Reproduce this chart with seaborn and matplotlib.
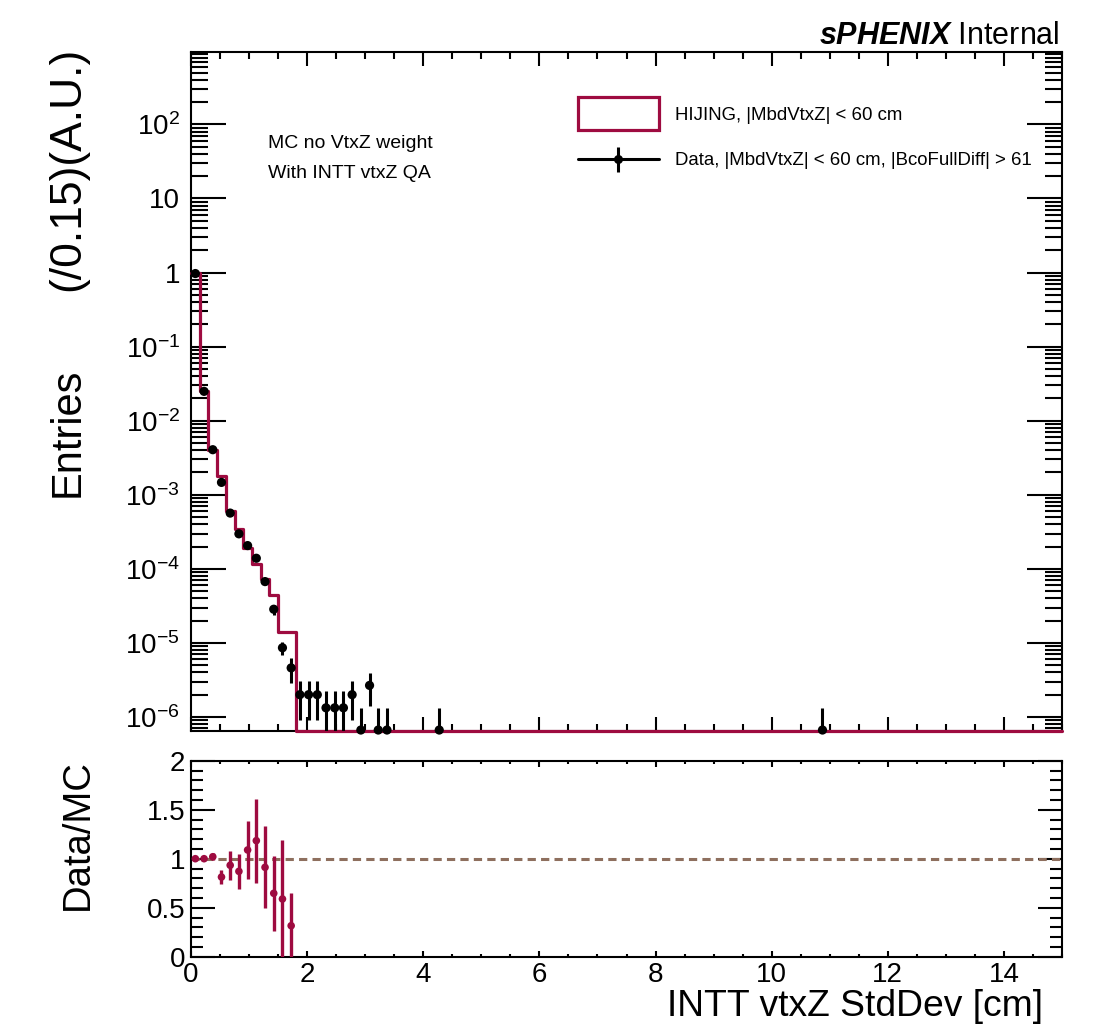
import numpy as np
import matplotlib
matplotlib.use("Agg")
import matplotlib.pyplot as plt
import seaborn as sns
from matplotlib.ticker import FixedLocator, FixedFormatter, LogLocator, NullFormatter, MultipleLocator
from matplotlib.patches import Rectangle
from matplotlib.lines import Line2D
from matplotlib.legend_handler import HandlerPatch, HandlerTuple

# ---------------- data ----------------
bin_width = 0.15
x_lo, x_hi = 0.0, 15.0
n_bins = 100

mc_centers = [0.075, 0.225, 0.375, 0.525, 0.675, 0.825, 0.975, 1.125, 1.275, 1.425, 1.575, 1.725]
mc_values = [0.975, 0.0252, 0.0040, 0.00181, 6.1e-4, 3.4e-4, 1.9e-4, 1.18e-4, 7.4e-5, 4.4e-5, 1.42e-5, 1.42e-5]

data_x = [0.075, 0.225, 0.375, 0.525, 0.675, 0.825, 0.975, 1.125, 1.275, 1.425, 1.575, 1.725,
          1.875, 2.025, 2.175, 2.325, 2.475, 2.625, 2.775, 2.925, 3.075, 3.225, 3.375, 4.275, 10.875]
data_y = [0.97, 0.0249, 0.00406, 0.00147, 5.66e-4, 2.97e-4, 2.06e-4, 1.39e-4, 6.73e-5, 2.85e-5, 8.6e-6, 4.6e-6,
          2.0e-6, 2.0e-6, 2.0e-6, 1.33e-6, 1.33e-6, 1.33e-6, 2.0e-6, 6.67e-7, 2.67e-6, 6.67e-7, 6.67e-7, 6.67e-7, 6.67e-7]
data_err = [8e-4, 1.3e-4, 5.2e-5, 3.1e-5, 1.9e-5, 1.4e-5, 1.2e-5, 9.6e-6, 6.7e-6, 4.4e-6, 1.7e-6, 1.7e-6,
            1.1e-6, 1.1e-6, 1.1e-6, 9.1e-7, 9.1e-7, 9.1e-7, 1.1e-6, 6.5e-7, 1.25e-6, 6.5e-7, 6.5e-7, 6.5e-7, 6.5e-7]

ratio_x = mc_centers
ratio_y = [1.0, 1.0, 1.02, 0.813, 0.933, 0.871, 1.089, 1.184, 0.912, 0.647, 0.589, 0.316]
ratio_err = [0.01, 0.015, 0.037, 0.068, 0.146, 0.18, 0.30, 0.43, 0.42, 0.38, 0.60, 0.33]

main_yticks = [1e-6, 1e-5, 1e-4, 1e-3, 1e-2, 1e-1, 1, 10, 100]
main_yticklabels = [r'$10^{-6}$', r'$10^{-5}$', r'$10^{-4}$', r'$10^{-3}$', r'$10^{-2}$', r'$10^{-1}$',
                    '1', '10', r'$10^{2}$']
x_ticks = [0, 2, 4, 6, 8, 10, 12, 14]
x_ticklabels = ['0', '2', '4', '6', '8', '10', '12', '14']
ratio_yticks = [0, 0.5, 1, 1.5, 2]
ratio_yticklabels = ['0', '0.5', '1', '1.5', '2']

y_min, y_max = 6.47e-7, 950.0

RED = '#9e0b40'
BROWN = '#8e6f5e'

# ---------------- style ----------------
sns.set_style('ticks')
plt.rcParams['font.family'] = ['Liberation Sans', 'DejaVu Sans']
plt.rcParams['mathtext.fontset'] = 'custom'
plt.rcParams['mathtext.rm'] = 'Liberation Sans'
plt.rcParams['mathtext.it'] = 'Liberation Sans:italic'
plt.rcParams['mathtext.bf'] = 'Liberation Sans:bold'
plt.rcParams['mathtext.bfit'] = 'Liberation Sans:italic:bold'
plt.rcParams['axes.linewidth'] = 1.5
for key in ['text.color', 'axes.labelcolor', 'xtick.color', 'ytick.color', 'axes.edgecolor']:
    plt.rcParams[key] = 'black'

W, H = 1108, 1030
fig = plt.figure(figsize=(W / 100, H / 100), dpi=100)
ax = fig.add_axes([191 / W, 1 - 731 / H, 871 / W, 679 / H])
rax = fig.add_axes([191 / W, 1 - 956.7 / H, 871 / W, 196 / H])

# ---------------- main panel ----------------
ax.set_yscale('log')
edges = np.linspace(x_lo, x_hi, n_bins + 1)
mc_full = np.zeros(n_bins)
idx = np.round((np.array(mc_centers) - bin_width / 2) / bin_width).astype(int)
mc_full[idx] = mc_values
mc_draw = np.where(mc_full > 0, mc_full, y_min)
step_y = np.append(mc_draw, mc_draw[-1])
sns.lineplot(x=edges, y=step_y, drawstyle='steps-post', estimator=None, sort=False,
             color=RED, lw=2.3, ax=ax, clip_on=False, zorder=4)

dx = np.array(data_x)
dy = np.array(data_y)
de = np.array(data_err)
lower = dy - np.maximum(dy - de, 1e-9)
ax.errorbar(dx, dy, yerr=[lower, de], fmt='none', ecolor='black', elinewidth=2.2, capsize=0, zorder=5)
sns.scatterplot(x=dx, y=dy, color='black', s=44, edgecolor='none', ax=ax, clip_on=False, zorder=6)

ax.set_xlim(x_lo, x_hi)
ax.set_ylim(y_min, y_max)
ax.yaxis.set_major_locator(FixedLocator(main_yticks))
ax.yaxis.set_major_formatter(FixedFormatter(main_yticklabels))
ax.yaxis.set_minor_locator(LogLocator(base=10, subs=np.arange(2, 10), numticks=30))
ax.yaxis.set_minor_formatter(NullFormatter())
ax.xaxis.set_major_locator(MultipleLocator(2))
ax.xaxis.set_minor_locator(MultipleLocator(0.5))
ax.tick_params(axis='x', which='major', direction='in', length=10, width=1.5, top=True, bottom=True, labelbottom=False)
ax.tick_params(axis='x', which='minor', direction='in', length=5, width=1.5, top=True, bottom=True)
ax.tick_params(axis='y', which='major', direction='in', length=25, width=1.5, left=True, right=True,
               labelsize=20, pad=8)
ax.tick_params(axis='y', which='minor', direction='in', length=12.5, width=1.5, left=True, right=True)
ax.set_xlabel('')
ax.set_ylabel('')
for s in ax.spines.values():
    s.set_linewidth(1.5)
    s.set_color('black')


def tall_rect(legend, orig_handle, xdescent, ydescent, width, height, fontsize):
    hh = 23.8
    return Rectangle((-xdescent, -ydescent + height / 2 - hh / 2), width, hh)


mc_handle = Rectangle((0, 0), 1, 1, facecolor='white', edgecolor=RED, lw=2.3)
data_handle = (Line2D([], [], color='black', lw=2.2),
               Line2D([], [], ls='none', marker='|', ms=18, mew=2.2, color='black'),
               Line2D([], [], ls='none', marker='o', ms=6.5, color='black', mec='none'))
ax.legend([mc_handle, data_handle],
          ['HIJING, |MbdVtxZ| < 60 cm', 'Data, |MbdVtxZ| < 60 cm, |BcoFullDiff| > 61'],
          handler_map={Rectangle: HandlerPatch(patch_func=tall_rect), tuple: HandlerTuple(ndivide=1, pad=0)},
          loc='upper left', bbox_to_anchor=(578 / W, 1 - 107 / H), bbox_transform=fig.transFigure,
          frameon=False, borderpad=0, borderaxespad=0, handlelength=4.35, handletextpad=0.86,
          labelspacing=1.52, fontsize=13.4)

fig.text(268 / W, 1 - 144 / H, 'MC no VtxZ weight', va='center', ha='left', fontsize=14)
fig.text(268 / W, 1 - 173 / H, 'With INTT vtxZ QA', va='center', ha='left', fontsize=14)
fig.text(1060 / W, 1 - 44 / H, r'$\mathbfit{sPHENIX}$ Internal', ha='right', va='baseline', fontsize=22)

# ---------------- ratio panel ----------------
rax.axhline(1.0, color=BROWN, lw=2.2, ls=(0, (2.7, 1.7)), zorder=2)
rax.errorbar(ratio_x, ratio_y, yerr=ratio_err, fmt='none', ecolor=RED, elinewidth=2.4, capsize=0, zorder=4)
sns.scatterplot(x=ratio_x, y=ratio_y, color=RED, s=30, edgecolor='none', ax=rax, zorder=5, clip_on=False)
rax.set_xlim(x_lo, x_hi)
rax.set_ylim(0, 2)
rax.xaxis.set_major_locator(FixedLocator(x_ticks))
rax.xaxis.set_major_formatter(FixedFormatter(x_ticklabels))
rax.xaxis.set_minor_locator(MultipleLocator(0.5))
rax.yaxis.set_major_locator(FixedLocator(ratio_yticks))
rax.yaxis.set_major_formatter(FixedFormatter(ratio_yticklabels))
rax.yaxis.set_minor_locator(MultipleLocator(0.1))
rax.tick_params(axis='x', which='major', direction='in', length=4.5, width=1.5, top=True, bottom=True,
                labelsize=20, pad=3.6)
rax.tick_params(axis='x', which='minor', direction='in', length=2.3, width=1.5, top=True, bottom=True)
rax.tick_params(axis='y', which='major', direction='in', length=17, width=1.5, left=True, right=True,
                labelsize=20, pad=4.3)
rax.tick_params(axis='y', which='minor', direction='in', length=8.5, width=1.5, left=True, right=True)
rax.set_xlabel('')
rax.set_ylabel('')
for s in rax.spines.values():
    s.set_linewidth(1.5)
    s.set_color('black')

# axis titles
fig.text(68 / W, 1 - 497 / H, 'Entries', rotation=90, ha='center', va='bottom', fontsize=30)
fig.text(68 / W, 1 - 47 / H, '(/0.15)(A.U.)', rotation=90, ha='center', va='top', fontsize=32)
fig.text(77.5 / W, 1 - 835 / H, 'Data/MC', rotation=90, ha='center', va='center', fontsize=27.5)
fig.text(1043 / W, 1 - 1016 / H, 'INTT vtxZ StdDev [cm]', ha='right', va='baseline', fontsize=26.8)

fig.savefig('out.png', dpi=100)
